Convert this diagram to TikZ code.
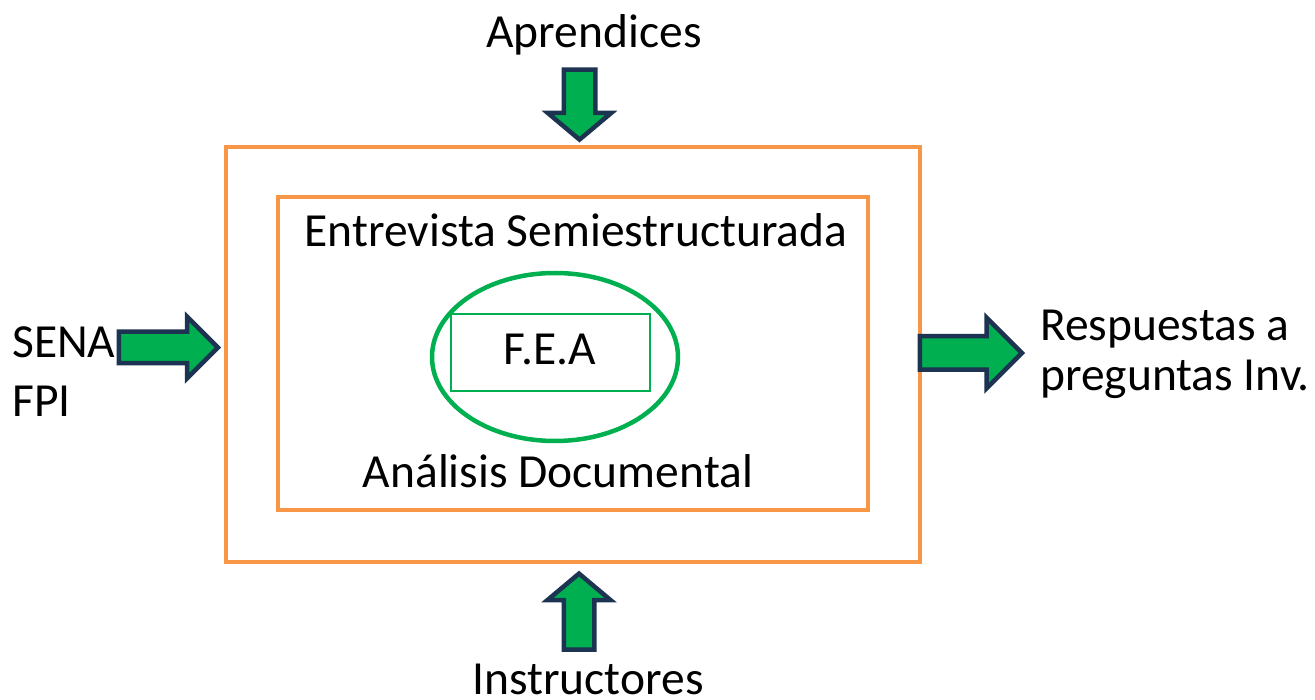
\documentclass[tikz,border=0pt]{standalone}
\usepackage{fontspec}
\setmainfont{Carlito}
\usepackage{tikz}
\usetikzlibrary{shapes.geometric, shapes.arrows, positioning}

\definecolor{boxorange}{HTML}{F79646}
\definecolor{feagreen}{HTML}{00B050}
\definecolor{arrnavy}{HTML}{1D3352}

\begin{document}
\begin{tikzpicture}[
  x=1pt, y=-1pt,
  lbl/.style={font=\fontsize{47.5}{59}\selectfont, inner sep=0pt},
  frame/.style={draw=boxorange, line width=4pt, inner sep=0pt},
  blk/.style={shape=single arrow, draw=arrnavy, fill=feagreen, line width=4.5pt,
              inner xsep=0pt, single arrow head indent=0pt, minimum width=0pt},
]
\useasboundingbox (0,0) rectangle (1315,700);

% boxes
\node[frame, minimum width=694pt, minimum height=415pt] (outer) at (573,354.5) {};
\node[frame, minimum width=590pt, minimum height=313pt] (inner) at (573,353.5) {};
\node[draw=feagreen, line width=4.5pt, ellipse, minimum width=246pt, minimum height=168pt,
      inner sep=0pt] (core) at (555,357) {};
\node[draw=feagreen, line width=1.2pt, minimum width=199pt, minimum height=77pt,
      inner sep=0pt] (fea) at (550.5,352.5) {};

% texts
\node[lbl, anchor=base] (fealbl) at (550,365) {F.E.A};
\node[lbl, anchor=base] (entrev) at (576,247) {Entrevista Semiestructurada};
\node[lbl, anchor=base] (analisis) at (558,487) {Análisis Documental};
\node[lbl, anchor=base] (aprend) at (594,48) {Aprendices};
\node[lbl, anchor=base, text depth=0pt] (instr) at (588,694) {Instructores};
\node[lbl, anchor=base west, align=left] (sena) at (12,417) {SENA\\FPI};
\node[lbl, anchor=base west, align=left, font=\fontsize{47.5}{50}\selectfont]
  (resp) at (1040,391) {Respuestas a\\preguntas Inv.};

% block arrows
\node[blk, rotate=-90, minimum height=70pt, inner ysep=13.5pt,
      single arrow head extend=16pt, single arrow tip angle=100] (aIn) at (579.5,98) {};
\node[blk, rotate=90, minimum height=76pt, inner ysep=13pt,
      single arrow head extend=16.5pt, single arrow tip angle=100] (iIn) at (579,618) {};
\node[blk, minimum height=99pt, inner ysep=13.5pt,
      single arrow head extend=15pt] (sIn) at (160.5,347.5) {};
\node[blk, minimum height=102pt, inner ysep=14.5pt,
      single arrow head extend=18.5pt] (rOut) at (962.5,353) {};
\end{tikzpicture}
\end{document}
